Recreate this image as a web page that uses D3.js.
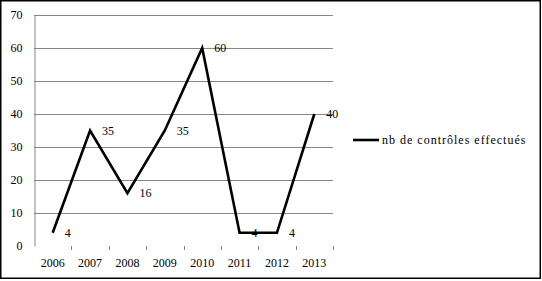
<!DOCTYPE html>
<html>
<head>
    <meta charset="utf-8">
    <title>nb de contrôles effectués</title>
    <script src="https://cdn.jsdelivr.net/npm/d3@7"></script>
    <style>
    body { margin: 0; background: #fff; }
    text { font-family: "Liberation Serif", "Times New Roman", serif; font-size: 12px; fill: #000; }
    .grid line { stroke: #868686; stroke-width: 1px; }
    .curve { fill: none; stroke: #000; stroke-width: 2.6px; stroke-linejoin: miter; }
    .legend text { letter-spacing: 1px; }
    </style>
</head>
<body>
<script>

// data
var years = ['2006', '2007', '2008', '2009', '2010', '2011', '2012', '2013'];
var values = [4, 35, 16, 35, 60, 4, 4, 40];
var yTicks = [0, 10, 20, 30, 40, 50, 60, 70];
var seriesName = 'nb de contrôles effectués';

var width = 542, height = 281;
var plot = {left: 34, right: 333, top: 15, bottom: 246};

var svg = d3.select('body').append('svg')
    .attr('width', width)
    .attr('height', height);

// outer frame
svg.append('rect')
    .attr('x', 0.75).attr('y', 0.75)
    .attr('width', 539.5).attr('height', 277.5)
    .attr('fill', 'none')
    .attr('stroke', '#000')
    .attr('stroke-width', 1.5);

var x = d3.scaleBand().domain(years).range([plot.left, plot.right]);
var y = d3.scaleLinear().domain([0, 70]).range([plot.bottom, plot.top]);

// horizontal gridlines (none at zero)
svg.append('g').attr('class', 'grid')
    .selectAll('line')
    .data(yTicks.filter(function(t) { return t > 0; }))
    .join('line')
    .attr('x1', plot.left).attr('x2', plot.right)
    .attr('y1', function(d) { return Math.round(y(d)) + 0.5; })
    .attr('y2', function(d) { return Math.round(y(d)) + 0.5; });

// y axis
var yAxis = svg.append('g')
    .attr('transform', 'translate(' + (plot.left + 0.5) + ',0)')
    .call(d3.axisLeft(y).tickValues(yTicks).tickSize(0).tickPadding(12))
    .attr('font-family', null)
    .attr('font-size', null);
yAxis.select('.domain').attr('stroke', '#868686');

// x axis: only tick marks at category boundaries, labels centred
var bounds = years.map(function(d) { return x(d) + x.bandwidth(); });
svg.append('g').selectAll('line')
    .data(bounds)
    .join('line')
    .attr('x1', function(d) { return Math.round(d) + 0.5; })
    .attr('x2', function(d) { return Math.round(d) + 0.5; })
    .attr('y1', plot.bottom)
    .attr('y2', plot.bottom + 4)
    .attr('stroke', '#868686');

svg.append('g').selectAll('text')
    .data(years)
    .join('text')
    .attr('x', function(d) { return x(d) + x.bandwidth() / 2; })
    .attr('y', 267)
    .attr('text-anchor', 'middle')
    .text(function(d) { return d; });

// the series
var line = d3.line()
    .x(function(d, i) { return x(years[i]) + x.bandwidth() / 2; })
    .y(function(d) { return y(d); });

svg.append('path')
    .datum(values)
    .attr('class', 'curve')
    .attr('d', line);

// data labels
svg.append('g').selectAll('text')
    .data(values)
    .join('text')
    .attr('x', function(d, i) { return x(years[i]) + x.bandwidth() / 2 + 12; })
    .attr('y', function(d) { return y(d); })
    .attr('dy', '0.35em')
    .text(function(d) { return d; });

// legend
var legend = svg.append('g').attr('class', 'legend').attr('transform', 'translate(353,140)');
legend.append('line')
    .attr('x1', 0).attr('x2', 26)
    .attr('stroke', '#000').attr('stroke-width', 2.6);
legend.append('text')
    .attr('x', 29)
    .attr('dy', '0.35em')
    .text(seriesName);

</script>
</body>
</html>
